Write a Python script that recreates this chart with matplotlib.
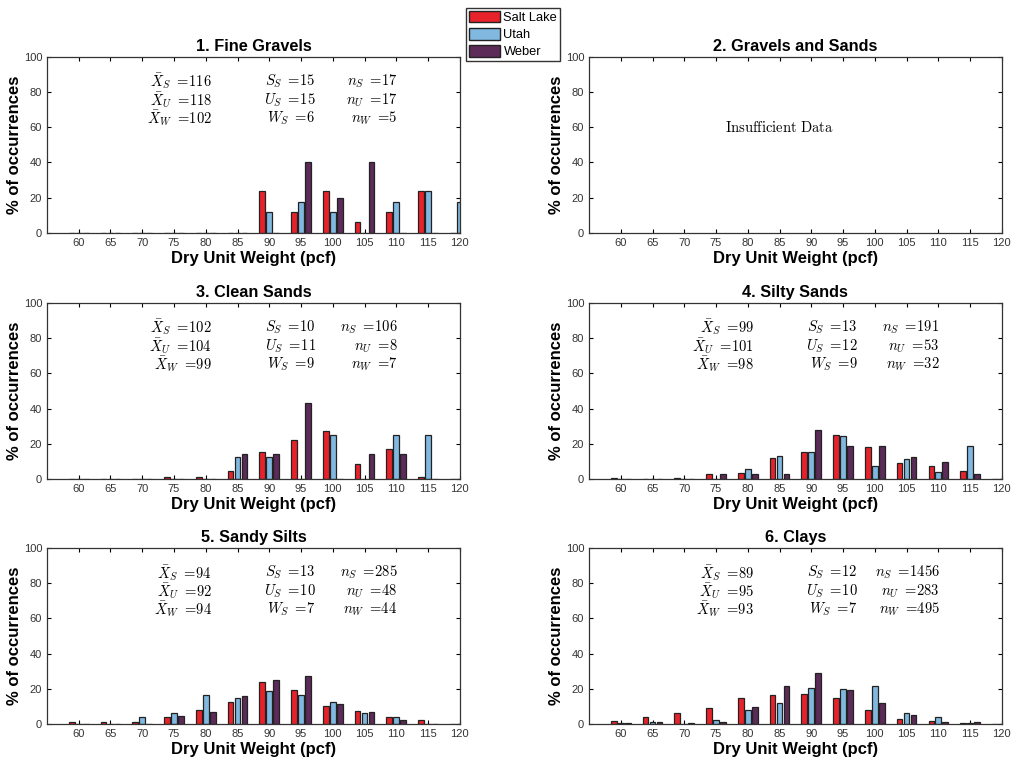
import matplotlib
matplotlib.use('Agg')
from matplotlib import pyplot as plt
from matplotlib.patches import Patch
import numpy as np

plt.rcParams['font.family'] = ['Liberation Sans', 'DejaVu Sans']
plt.rcParams['mathtext.fontset'] = 'cm'

bins = [60, 65, 70, 75, 80, 85, 90, 95, 100, 105, 110, 115, 120]
counties = ['Salt Lake', 'Utah', 'Weber']
colors = ['#e8222b', '#80b8e0', '#5c2b58']

titles = ['1. Fine Gravels', '2. Gravels and Sands', '3. Clean Sands',
          '4. Silty Sands', '5. Sandy Silts', '6. Clays']

# % of occurrences per bin, Salt Lake / Utah / Weber
fine_gravels_sl = [0, 0, 0, 0, 0, 0, 23.5, 11.8, 23.5, 5.9, 11.8, 23.5, 0]
fine_gravels_ut = [0, 0, 0, 0, 0, 0, 11.8, 17.6, 11.8, 0, 17.6, 23.5, 17.6]
fine_gravels_wb = [0, 0, 0, 0, 0, 0, 0, 40, 20, 40, 0, 0, 0]

clean_sands_sl = [0, 0, 0, 0.9, 0.9, 4.7, 15.1, 22.0, 27.4, 8.5, 17.0, 0.9, 0]
clean_sands_ut = [0, 0, 0, 0, 0, 12.5, 12.5, 0, 25, 0, 25, 25, 0]
clean_sands_wb = [0, 0, 0, 0, 0, 14.3, 14.3, 42.9, 0, 14.3, 14.3, 0, 0]

silty_sands_sl = [0.5, 0, 0.5, 2.6, 3.4, 12.0, 15.5, 24.8, 18.4, 9.1, 7.4, 4.4, 0]
silty_sands_ut = [0, 0, 0, 0, 5.7, 13.2, 15.1, 24.5, 7.5, 11.3, 3.8, 18.9, 0]
silty_sands_wb = [0, 0, 0, 3.1, 3.1, 3.1, 28.1, 18.8, 18.8, 12.5, 9.4, 3.1, 0]

sandy_silts_sl = [1.2, 1.2, 1.2, 4.0, 8.1, 12.3, 23.9, 19.1, 10.4, 7.6, 4.2, 2.2, 0]
sandy_silts_ut = [0, 0, 4.2, 6.2, 16.7, 14.6, 18.8, 16.7, 12.5, 6.2, 4.2, 0, 0]
sandy_silts_wb = [0, 0, 0, 4.5, 6.8, 15.9, 25.0, 27.3, 11.4, 6.8, 2.3, 0, 0]

clays_sl = [1.9, 4.2, 6.0, 8.9, 14.6, 16.5, 17.2, 14.8, 7.8, 3.0, 1.9, 0.3, 0]
clays_ut = [0.4, 1.2, 0.2, 2.5, 8.1, 11.9, 20.6, 19.9, 21.8, 6.4, 4.2, 0.3, 0]
clays_wb = [0.6, 1.0, 0.4, 1.0, 9.5, 21.8, 29.2, 19.5, 11.9, 4.9, 1.3, 1.2, 0]

panel_data = [
    [fine_gravels_sl, fine_gravels_ut, fine_gravels_wb],
    None,
    [clean_sands_sl, clean_sands_ut, clean_sands_wb],
    [silty_sands_sl, silty_sands_ut, silty_sands_wb],
    [sandy_silts_sl, sandy_silts_ut, sandy_silts_wb],
    [clays_sl, clays_ut, clays_wb],
]

# mean, std, count per county
means = [[116, 118, 102], None, [102, 104, 99], [99, 101, 98], [94, 92, 94], [89, 95, 93]]
stds = [[15, 15, 6], None, [10, 11, 9], [13, 12, 9], [13, 10, 7], [12, 10, 7]]
counts = [[17, 17, 5], None, [106, 8, 7], [191, 53, 32], [285, 48, 44], [1456, 283, 495]]

fig = plt.figure(figsize=(10.12, 7.66), dpi=100)

lefts = [0.0464, 0.582]
bottoms = [0.696, 0.3747, 0.0548]
w, h = 0.408, 0.2298

offsets = [-1.1, 0, 1.1]
bw = 0.9
subs = ['S', 'U', 'W']

for k in range(6):
    ax = fig.add_axes([lefts[k % 2], bottoms[k // 2], w, h])
    x = np.array(bins, dtype=float)
    if panel_data[k] is not None:
        for j in range(3):
            ax.bar(x + offsets[j], panel_data[k][j], width=bw, color=colors[j],
                   edgecolor='#222222', linewidth=0.9, zorder=2)
        for j in range(3):
            yy = 86 - 10.4 * j
            ax.text(81, yy, r'$\bar{X}_%s\ =\!%d$' % (subs[j], means[k][j]),
                    ha='right', va='center', fontsize=10.5)
            ax.text(97.3, yy, r'$%s_S\ =\!%d$' % (subs[j], stds[k][j]),
                    ha='right', va='center', fontsize=10.5)
            ax.text(110.2, yy, r'$n_%s\ =\!%d$' % (subs[j], counts[k][j]),
                    ha='right', va='center', fontsize=10.5)
    else:
        ax.text(85, 60, r'$\mathrm{Insufficient\ Data}$', ha='center',
                va='center', fontsize=10.5)
    ax.set_xlim(55, 120)
    ax.set_ylim(0, 100)
    ax.set_xticks(np.arange(60, 121, 5))
    ax.set_yticks(np.arange(0, 101, 20))
    ax.tick_params(direction='in', top=True, right=True, length=3,
                   labelsize=8, labelcolor='#333333', width=0.8)
    for s in ax.spines.values():
        s.set_linewidth(0.9)
        s.set_color('#333333')
    ax.set_title(titles[k], fontsize=11.7, fontweight='bold', pad=4)
    ax.set_xlabel('Dry Unit Weight (pcf)', fontsize=12, fontweight='bold', labelpad=2)
    ax.set_ylabel('% of occurrences', fontsize=12, fontweight='bold', labelpad=1)

handles = [Patch(facecolor=colors[j], edgecolor='#222222', label=counties[j]) for j in range(3)]
fig.legend(handles=handles, loc='upper left', bbox_to_anchor=(0.4605, 0.99),
           fontsize=9.3, frameon=True, fancybox=False, edgecolor='black',
           handlelength=2.4, handleheight=1.0, handletextpad=0.25,
           labelspacing=0.3, borderpad=0.25, borderaxespad=0)

fig.savefig('out.png', dpi=100)
